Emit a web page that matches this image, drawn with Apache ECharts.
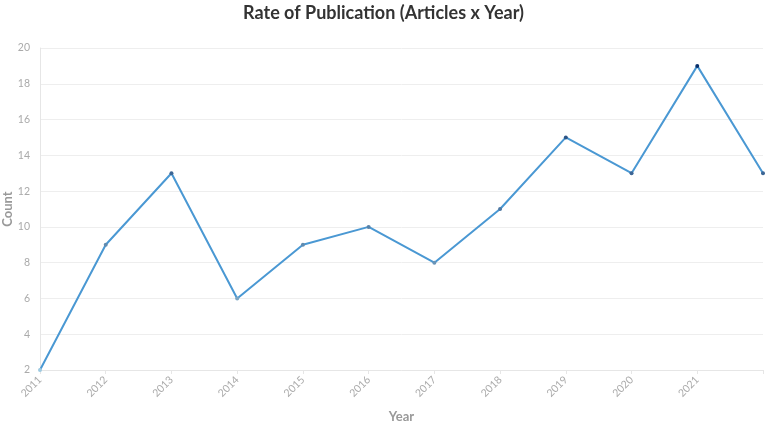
<!DOCTYPE html>
<html><head><meta charset="utf-8">
<script src="https://cdn.jsdelivr.net/npm/echarts@6/dist/echarts.min.js"></script>
<style>html,body{margin:0;padding:0;background:#fff}#c{width:767px;height:424px}</style>
</head><body><div id="c"></div>
<script>
const years = ['2011','2012','2013','2014','2015','2016','2017','2018','2019','2020','2021','2022'];
const counts = [2, 9, 13, 6, 9, 10, 8, 11, 15, 13, 19, 13];
const yTicks = [2, 4, 6, 8, 10, 12, 14, 16, 18, 20];

function pointColor(v){
  const t = (v - 2) / 17;
  const a = [158, 202, 225], b = [8, 48, 107];
  const c = a.map((x, i) => Math.round(x + (b[i] - x) * t));
  return 'rgb(' + c.join(',') + ')';
}

const chart = echarts.init(document.getElementById('c'));
chart.setOption({
  animation: false,
  title: {text: 'Rate of Publication (Articles x Year)', left: 'center', top: -1,
    textStyle: {fontFamily: 'Lato', fontWeight: 'bold', fontSize: 18, color: '#333'}},
  grid: {left: 40, right: 4, top: 48, bottom: 54, outerBoundsMode: 'none', containLabel: false},
  xAxis: {type: 'category', data: years, boundaryGap: false,
    name: 'Year', nameLocation: 'middle', nameGap: 40, nameMoveOverlap: false,
    nameTextStyle: {fontFamily: 'Lato', fontWeight: 'bold', fontSize: 13, color: '#999'},
    axisLine: {lineStyle: {color: '#e6e6e6'}},
    axisTick: {show: true, lineStyle: {color: '#e6e6e6'}, length: 4},
    axisLabel: {rotate: 45, color: '#aaa', fontFamily: 'Lato', fontSize: 10.5,
      formatter: (v, i) => i === years.length - 1 ? '' : v},
    splitLine: {show: false}},
  yAxis: {type: 'value', min: yTicks[0], max: yTicks[yTicks.length-1], interval: 2,
    name: 'Count', nameLocation: 'middle', nameGap: 26, nameMoveOverlap: false,
    nameTextStyle: {fontFamily: 'Lato', fontWeight: 'bold', fontSize: 13, color: '#999'},
    axisLine: {show: true, lineStyle: {color: '#e6e6e6'}},
    axisTick: {show: false},
    axisLabel: {color: '#aaa', fontFamily: 'Lato', fontSize: 10.5, margin: 10},
    splitLine: {lineStyle: {color: '#eeeeee'}}},
  series: [{type: 'line',
    data: counts.map(v => ({value: v, itemStyle: {color: pointColor(v)}})),
    symbol: 'circle', symbolSize: 4, showAllSymbol: true,
    lineStyle: {color: '#4a98d3', width: 2},
    itemStyle: {borderWidth: 0}}]
});
</script></body></html>
